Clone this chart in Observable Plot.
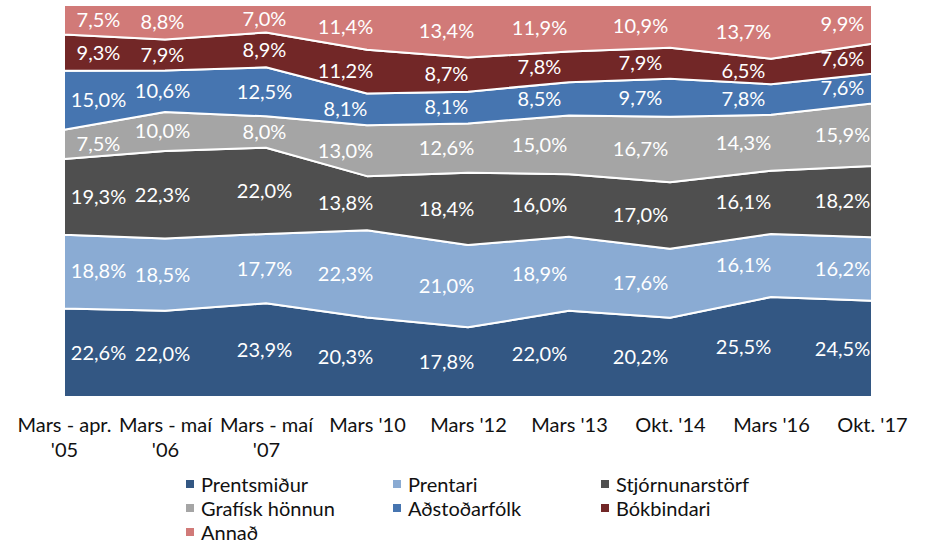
<!DOCTYPE html>
<html>
<head>
<meta charset="utf-8">
<script src="https://cdn.jsdelivr.net/npm/d3@7"></script>
<script src="https://cdn.jsdelivr.net/npm/@observablehq/plot@0.6"></script>
<style>
  body { margin: 0; background: #fff; font-family: Lato, "Open Sans", sans-serif; }
  #chart svg { display: block; }
  .legend { display: grid; grid-template-columns: 207px 208px 220px; padding-left: 186px; margin-top: 2px; }
  .legend .item { display: flex; align-items: center; height: 24px; font-size: 20px; color: #111; white-space: nowrap; }
  .legend .sw { width: 8px; height: 8px; margin-right: 7px; flex: none; }
</style>
</head>
<body>
<div id="chart"></div>
<script>
// ---- data ----
const periods = ["Mars - apr.\n'05", "Mars - maí\n'06", "Mars - maí\n'07", "Mars '10", "Mars '12", "Mars '13", "Okt. '14", "Mars '16", "Okt. '17"];
const seriesNames = ["Prentsmiður", "Prentari", "Stjórnunarstörf", "Grafísk hönnun", "Aðstoðarfólk", "Bókbindari", "Annað"];
const seriesColors = ["#335783", "#8AABD3", "#4F4F4F", "#A5A5A5", "#4675B0", "#722727", "#D17A78"];
const prentsmidur     = [22.6, 22.0, 23.9, 20.3, 17.8, 22.0, 20.2, 25.5, 24.5];
const prentari        = [18.8, 18.5, 17.7, 22.3, 21.0, 18.9, 17.6, 16.1, 16.2];
const stjornunarstorf = [19.3, 22.3, 22.0, 13.8, 18.4, 16.0, 17.0, 16.1, 18.2];
const grafiskHonnun   = [7.5, 10.0, 8.0, 13.0, 12.6, 15.0, 16.7, 14.3, 15.9];
const adstodarfolk    = [15.0, 10.6, 12.5, 8.1, 8.1, 8.5, 9.7, 7.8, 7.6];
const bokbindari      = [9.3, 7.9, 8.9, 11.2, 8.7, 7.8, 7.9, 6.5, 7.6];
const annad           = [7.5, 8.8, 7.0, 11.4, 13.4, 11.9, 10.9, 13.7, 9.9];

// ---- build tidy table ----
const seriesValues = [prentsmidur, prentari, stjornunarstorf, grafiskHonnun, adstodarfolk, bokbindari, annad];
const data = [];
seriesNames.forEach((s, si) => {
  periods.forEach((p, pi) => data.push({series: s, period: p, col: pi, value: seriesValues[si][pi]}));
});

const fmt = v => v.toFixed(1).replace(".", ",") + "%";
// Excel-like horizontal placement of labels per column
const labelShift = [34, -3, -2, -22, -22, -30, -30, -28, -30];

const labelMarks = periods.map((p, pi) =>
  Plot.text(data.filter(d => d.col === pi), Plot.stackY({
    x: "period", y: "value", z: "series", order: seriesNames, offset: "normalize",
    text: d => fmt(d.value), fill: "white", fontSize: 20, fontWeight: 400, dx: labelShift[pi],
    fontFamily: "Lato"
  }))
);

const chart = Plot.plot({
  width: 929,
  height: 470,
  marginLeft: 61,
  marginRight: 54,
  marginTop: 5,
  marginBottom: 73,
  style: {fontFamily: "Lato", background: "white"},
  x: {type: "point", domain: periods, padding: 0},
  y: {domain: [0, 1], axis: null},
  color: {domain: seriesNames, range: seriesColors},
  marks: [
    Plot.areaY(data, Plot.stackY({
      x: "period", y: "value", fill: "series", z: "series",
      order: seriesNames, offset: "normalize",
      stroke: "white", strokeWidth: 2, curve: "linear"
    })),
    ...labelMarks,
    Plot.axisX({tickSize: 0, tickPadding: 17, fontSize: 20, lineHeight: 1.25, fill: "#111", label: null, fontFamily: "Lato"})
  ]
});
document.getElementById("chart").appendChild(chart);

// ---- legend ----
const legend = document.createElement("div");
legend.className = "legend";
seriesNames.forEach((s, i) => {
  const item = document.createElement("div");
  item.className = "item";
  const sw = document.createElement("span");
  sw.className = "sw";
  sw.style.background = seriesColors[i];
  item.appendChild(sw);
  item.appendChild(document.createTextNode(s));
  legend.appendChild(item);
});
document.body.appendChild(legend);
</script>
</body>
</html>
